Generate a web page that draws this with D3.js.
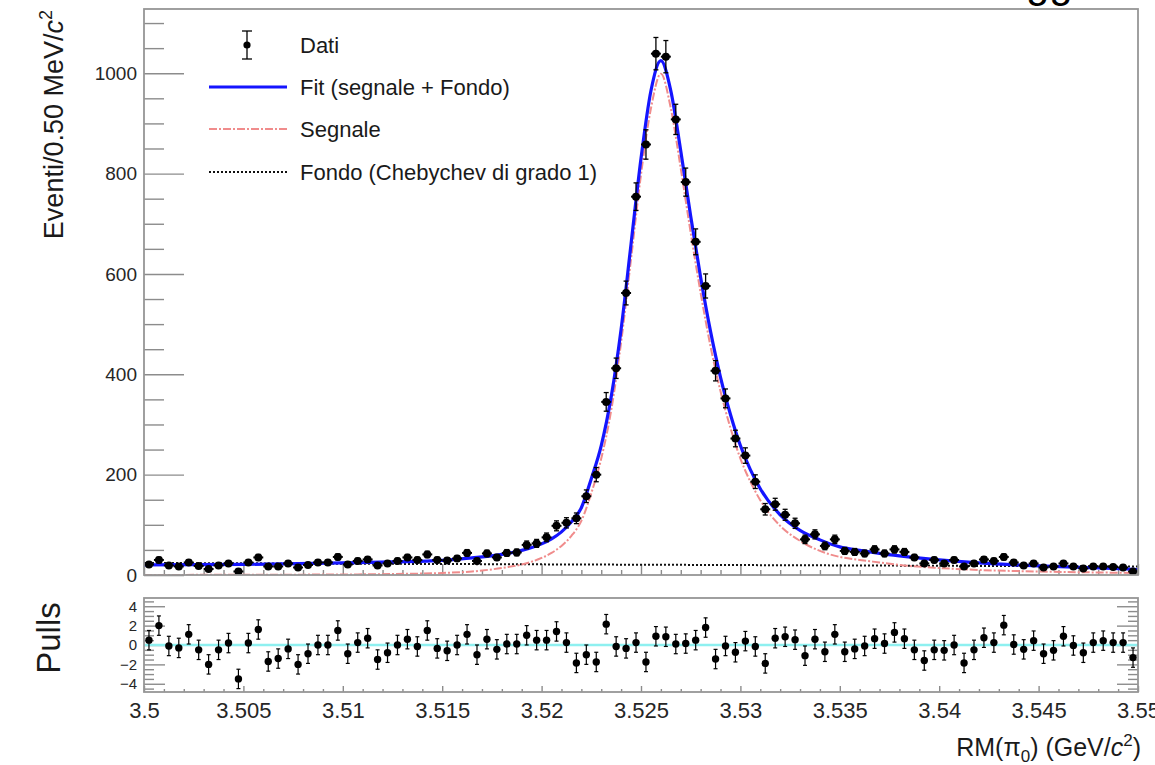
<!DOCTYPE html>
<html>
<head>
<meta charset="utf-8">
<script src="https://cdn.jsdelivr.net/npm/d3@7"></script>
<style>
  html, body { margin: 0; padding: 0; background: #fff; }
  svg { display: block; font-family: 'Liberation Sans', Arial, Helvetica, sans-serif; }
</style>
</head>
<body>
<svg id="chart" width="1155" height="765"></svg>
<script>
// Histogram binning: 100 bins of 0.5 MeV starting at 3.5 GeV
const binLow = 3.5;
const binWidth = 0.0005;

// Event counts per bin
const counts = [
  21, 30, 19, 17, 25, 18, 12, 19, 23, 7,
  25, 35, 17, 17, 23, 15, 20, 25, 25, 36,
  21, 28, 31, 19, 23, 28, 35, 30, 41, 30,
  29, 33, 44, 28, 43, 35, 44, 45, 60, 63,
  75, 98, 104, 113, 157, 200, 345, 412, 562, 754,
  858, 1039, 1033, 908, 783, 664, 576, 407, 352, 272,
  238, 186, 131, 141, 120, 103, 71, 81, 58, 71,
  48, 46, 43, 51, 43, 51, 46, 35, 23, 30,
  23, 30, 17, 23, 31, 28, 36, 25, 19, 23,
  15, 17, 23, 17, 13, 17, 17, 16, 15, 7
];

// Pull of each bin with respect to the total fit
const pulls = [
  0.5, 2.0, -0.1, -0.3, 1.1, -0.5, -2.0, -0.5, 0.2, -3.5,
  0.2, 1.6, -1.7, -1.4, -0.4, -2.0, -0.9, 0.0, 0.0, 1.5,
  -0.9, 0.25, 0.7, -1.5, -0.8, 0.0, 0.6, -0.15, 1.5, -0.35,
  -0.6, 0.0, 1.1, -1.0, 0.6, -0.45, 0.1, 0.1, 1.0, 0.5,
  0.5, 1.4, 0.25, -1.85, -1.0, -1.75, 2.15, -0.15, -0.35, 0.25,
  -1.75, 0.9, 0.85, 0.1, 0.15, 0.5, 1.8, -1.45, -0.1, -0.75,
  0.4, -0.15, -1.9, 0.7, 0.85, 0.55, -1.1, 0.6, -0.7, 1.1,
  -0.7, -0.4, -0.1, 0.65, 0.15, 1.3, 0.65, -0.5, -1.6, -0.5,
  -0.55, 0.0, -1.85, -0.5, 0.75, 0.25, 2.05, 0.05, -0.45, 0.45,
  -0.9, -0.55, 0.9, -0.05, -0.8, 0.25, 0.45, 0.25, 0.25, -1.3
];

// Fit curves sampled along the mass axis
const curveMass = [
  3.5, 3.505, 3.51, 3.5125, 3.515, 3.5165, 3.518, 3.519, 3.52,
  3.5205, 3.521, 3.5215, 3.522, 3.5225, 3.523, 3.5235, 3.524, 3.5245, 3.525,
  3.5255, 3.526, 3.5265, 3.527, 3.5275, 3.528, 3.5285, 3.529, 3.5295, 3.53,
  3.5305, 3.531, 3.532, 3.533, 3.534, 3.535, 3.536, 3.537, 3.538, 3.54,
  3.542, 3.545, 3.548, 3.55
];
const fitCurve = [
  20, 21, 24, 26, 29, 34, 41, 49, 62,
  72, 86, 106, 134, 192, 258, 355, 490, 660, 830,
  965, 1025, 965, 845, 715, 593, 485, 394, 320, 258,
  210, 172, 120, 89, 70, 56, 49, 43, 38, 30,
  24, 18, 14, 11
];
const signalCurve = [
  0, 0.5, 1, 2, 4, 7, 14, 21, 34,
  44, 58, 78, 108, 163, 232, 328, 464, 630, 798,
  930, 999, 930, 810, 682, 562, 455, 366, 293, 232,
  186, 149, 98, 68, 48, 36, 30, 25, 20, 14,
  10, 7, 5, 4
];
// Linear (first-order Chebychev) background, end points
const backgroundMass = [3.5, 3.55];
const backgroundCurve = [24, 17];

// Axis ticks and labels
const massTicks = [3.5, 3.505, 3.51, 3.515, 3.52, 3.525, 3.53, 3.535, 3.54, 3.545, 3.55];
const massTickLabels = ["3.5", "3.505", "3.51", "3.515", "3.52", "3.525", "3.53", "3.535", "3.54", "3.545", "3.55"];
const countTicks = [0, 200, 400, 600, 800, 1000];
const pullTicks = [-4, -2, 0, 2, 4];
const legendLabels = ["Dati", "Fit (segnale + Fondo)", "Segnale", "Fondo (Chebychev di grado 1)"];

const svg = d3.select('#chart');
const L = 144, R = 1138, T = 9, B = 575;       // main pad frame
const PT = 598, PB = 692;                       // pulls pad frame
const frameColor = '#969696';
const tickColor = '#8c8c8c';
const labelColor = '#262626';

const x = d3.scaleLinear().domain([3.5, 3.55]).range([L, R]);
const y = d3.scaleLinear().domain([0, 1128]).range([B, T]);
const yp = d3.scaleLinear().domain([-4.85, 4.85]).range([PB, PT]);

const defs = svg.append('defs');
defs.append('clipPath').attr('id', 'clipMain')
  .append('rect').attr('x', L).attr('y', T).attr('width', R - L).attr('height', B - T);
defs.append('clipPath').attr('id', 'clipPull')
  .append('rect').attr('x', L).attr('y', PT).attr('width', R - L).attr('height', PB - PT);

function styleAxis(g, fontSize) {
  g.select('.domain').remove();
  g.selectAll('.tick line').attr('stroke', tickColor).attr('stroke-width', 1.4);
  g.selectAll('.tick text').attr('fill', labelColor).attr('font-size', fontSize)
    .attr('font-family', "'Liberation Sans', Arial, Helvetica, sans-serif");
}

// ---------- main pad axes ----------
const countMinor = d3.range(0, 1128, 50).filter(v => !countTicks.includes(v));
svg.append('g').attr('transform', `translate(${L},0)`)
  .call(d3.axisLeft(y).tickValues(countMinor).tickSizeInner(-20).tickSizeOuter(0).tickFormat(''))
  .call(g => styleAxis(g, 19));
svg.append('g').attr('transform', `translate(${L},0)`)
  .call(d3.axisLeft(y).tickValues(countTicks).tickSizeInner(-40).tickSizeOuter(0).tickPadding(7).tickFormat(d3.format('d')))
  .call(g => styleAxis(g, 19));

// minor mass ticks every 1 MeV, skipping the 5 MeV majors
const isMinor = v => Math.abs(Math.round(v * 200) - v * 200) > 1e-6;
const massMinor = d3.range(0, 51).map(k => 3.5 + k * 0.001).filter(isMinor);
svg.append('g').attr('transform', `translate(0,${B})`)
  .call(d3.axisBottom(x).tickValues(massMinor).tickSizeInner(-5).tickSizeOuter(0).tickFormat(''))
  .call(g => styleAxis(g, 20));
svg.append('g').attr('transform', `translate(0,${B})`)
  .call(d3.axisBottom(x).tickValues(massTicks).tickSizeInner(-11).tickSizeOuter(0).tickFormat(''))
  .call(g => styleAxis(g, 20));

// ---------- pulls pad axes ----------
const pullMinor = d3.range(-4.5, 4.6, 0.5).filter(v => Math.abs(v % 2) > 1e-6);
svg.append('g').attr('transform', `translate(${L},0)`)
  .call(d3.axisLeft(yp).tickValues(pullMinor).tickSizeInner(-10).tickSizeOuter(0).tickFormat(''))
  .call(g => styleAxis(g, 15));
svg.append('g').attr('transform', `translate(${L},0)`)
  .call(d3.axisLeft(yp).tickValues(pullTicks).tickSizeInner(-21).tickSizeOuter(0).tickPadding(7).tickFormat(d3.format('d')))
  .call(g => styleAxis(g, 15));
svg.append('g').attr('transform', `translate(${R},0)`)
  .call(d3.axisRight(yp).tickValues(pullMinor).tickSizeInner(-10).tickSizeOuter(0).tickFormat(''))
  .call(g => styleAxis(g, 15));
svg.append('g').attr('transform', `translate(${R},0)`)
  .call(d3.axisRight(yp).tickValues(pullTicks).tickSizeInner(-21).tickSizeOuter(0).tickFormat(''))
  .call(g => styleAxis(g, 15));

svg.append('g').attr('transform', `translate(0,${PB})`)
  .call(d3.axisBottom(x).tickValues(massMinor).tickSizeInner(-3).tickSizeOuter(0).tickFormat(''))
  .call(g => styleAxis(g, 22));
svg.append('g').attr('transform', `translate(0,${PB})`)
  .call(d3.axisBottom(x).tickValues(massTicks).tickSizeInner(-6).tickSizeOuter(0).tickPadding(10)
    .tickFormat((d, i) => massTickLabels[i]))
  .call(g => styleAxis(g, 22));

// ---------- curves ----------
const curvePts = curveMass.map((m, i) => ({ m, fit: fitCurve[i], sig: signalCurve[i] }));
const plot = svg.append('g').attr('clip-path', 'url(#clipMain)');

const bkgLine = d3.line().x(d => x(d[0])).y(d => y(d[1]));
plot.append('path')
  .attr('d', bkgLine(backgroundMass.map((m, i) => [m, backgroundCurve[i]])))
  .attr('fill', 'none').attr('stroke', '#111').attr('stroke-width', 2)
  .attr('stroke-dasharray', '2,2');

plot.append('path')
  .attr('d', d3.line().curve(d3.curveMonotoneX).x(d => x(d.m)).y(d => y(d.sig))(curvePts))
  .attr('fill', 'none').attr('stroke', '#f08c8c').attr('stroke-width', 2)
  .attr('stroke-dasharray', '8,2,2,2');

plot.append('path')
  .attr('d', d3.line().curve(d3.curveMonotoneX).x(d => x(d.m)).y(d => y(d.fit))(curvePts))
  .attr('fill', 'none').attr('stroke', '#1515ff').attr('stroke-width', 3.2);

// ---------- data points ----------
const bins = counts.map((c, i) => {
  const lo = binLow + binWidth * i;
  return { lo, hi: lo + binWidth, mid: lo + binWidth / 2, c, err: Math.sqrt(c), pull: pulls[i] };
});

const pts = plot.append('g').attr('stroke', '#000').attr('stroke-width', 1.3);
const dp = pts.selectAll('g.pt').data(bins).join('g').attr('class', 'pt');
dp.append('line')
  .attr('x1', d => x(d.mid)).attr('x2', d => x(d.mid))
  .attr('y1', d => y(d.c - d.err)).attr('y2', d => y(d.c + d.err));
dp.append('line')
  .attr('x1', d => x(d.mid) - 2.5).attr('x2', d => x(d.mid) + 2.5)
  .attr('y1', d => y(d.c + d.err)).attr('y2', d => y(d.c + d.err));
dp.append('line')
  .attr('x1', d => x(d.mid) - 2.5).attr('x2', d => x(d.mid) + 2.5)
  .attr('y1', d => y(d.c - d.err)).attr('y2', d => y(d.c - d.err));
dp.append('line')
  .attr('x1', d => x(d.lo)).attr('x2', d => x(d.hi))
  .attr('y1', d => y(d.c)).attr('y2', d => y(d.c)).attr('stroke-width', 2);
dp.append('circle')
  .attr('cx', d => x(d.mid)).attr('cy', d => y(d.c)).attr('r', 4)
  .attr('fill', '#000').attr('stroke', 'none');

// ---------- pulls ----------
const pplot = svg.append('g').attr('clip-path', 'url(#clipPull)');
pplot.append('line')
  .attr('x1', L).attr('x2', R).attr('y1', yp(0)).attr('y2', yp(0))
  .attr('stroke', '#8ef0f0').attr('stroke-width', 2.5);
const pp = pplot.append('g').attr('stroke', '#000').attr('stroke-width', 1.2)
  .selectAll('g').data(bins).join('g');
pp.append('line')
  .attr('x1', d => x(d.mid)).attr('x2', d => x(d.mid))
  .attr('y1', d => yp(d.pull - 1)).attr('y2', d => yp(d.pull + 1));
pp.append('line')
  .attr('x1', d => x(d.mid) - 2).attr('x2', d => x(d.mid) + 2)
  .attr('y1', d => yp(d.pull + 1)).attr('y2', d => yp(d.pull + 1));
pp.append('line')
  .attr('x1', d => x(d.mid) - 2).attr('x2', d => x(d.mid) + 2)
  .attr('y1', d => yp(d.pull - 1)).attr('y2', d => yp(d.pull - 1));
pp.append('circle')
  .attr('cx', d => x(d.mid)).attr('cy', d => yp(d.pull)).attr('r', 3.7)
  .attr('fill', '#000').attr('stroke', 'none');

// ---------- frames ----------
svg.append('rect').attr('x', L).attr('y', T).attr('width', R - L).attr('height', B - T)
  .attr('fill', 'none').attr('stroke', frameColor).attr('stroke-width', 1.8);
svg.append('rect').attr('x', L).attr('y', PT).attr('width', R - L).attr('height', PB - PT)
  .attr('fill', 'none').attr('stroke', frameColor).attr('stroke-width', 1.8);

// ---------- legend ----------
const leg = svg.append('g');
const legY = [45, 87, 129, 172];
const lg0 = leg.append('g').attr('stroke', '#000').attr('stroke-width', 1.3);
lg0.append('line').attr('x1', 247).attr('x2', 247).attr('y1', legY[0] - 14).attr('y2', legY[0] + 14);
lg0.append('line').attr('x1', 242).attr('x2', 252).attr('y1', legY[0] - 14).attr('y2', legY[0] - 14);
lg0.append('line').attr('x1', 242).attr('x2', 252).attr('y1', legY[0] + 14).attr('y2', legY[0] + 14);
lg0.append('circle').attr('cx', 247).attr('cy', legY[0]).attr('r', 3.6).attr('fill', '#000').attr('stroke', 'none');
leg.append('line').attr('x1', 209).attr('x2', 287).attr('y1', legY[1]).attr('y2', legY[1])
  .attr('stroke', '#1515ff').attr('stroke-width', 3.2);
leg.append('line').attr('x1', 209).attr('x2', 287).attr('y1', legY[2]).attr('y2', legY[2])
  .attr('stroke', '#f08c8c').attr('stroke-width', 2).attr('stroke-dasharray', '8,2,2,2');
leg.append('line').attr('x1', 209).attr('x2', 287).attr('y1', legY[3]).attr('y2', legY[3])
  .attr('stroke', '#111').attr('stroke-width', 2).attr('stroke-dasharray', '2,2');
leg.selectAll('text.lab').data(legendLabels).join('text').attr('class', 'lab')
  .attr('x', 300).attr('y', (d, i) => legY[i]).attr('dy', '0.36em')
  .attr('font-size', 22).attr('fill', '#1a1a1a').text(d => d);

// ---------- axis titles ----------
const yt = svg.append('text')
  .attr('transform', 'translate(63,10) rotate(-90)')
  .attr('text-anchor', 'end').attr('font-size', 27).attr('fill', '#1a1a1a');
yt.append('tspan').text('Eventi/0.50 MeV/');
yt.append('tspan').attr('font-style', 'italic').text('c');
yt.append('tspan').attr('font-size', 18).attr('dy', -11).text('2');

svg.append('text')
  .attr('transform', 'translate(60,638) rotate(-90)')
  .attr('text-anchor', 'middle').attr('font-size', 33).attr('fill', '#1a1a1a').text('Pulls');

const xt = svg.append('text')
  .attr('x', 1141).attr('y', 756)
  .attr('text-anchor', 'end').attr('font-size', 25).attr('fill', '#1a1a1a');
xt.append('tspan').text('RM(π');
xt.append('tspan').attr('font-size', 17).attr('dy', 6).text('0');
xt.append('tspan').attr('dy', -6).text(') (GeV/');
xt.append('tspan').attr('font-style', 'italic').text('c');
xt.append('tspan').attr('font-size', 17).attr('dy', -10).text('2');
xt.append('tspan').attr('dy', 10).text(')');

// Title fragment running off the top edge
svg.append('text').attr('x', 1026).attr('y', -3).attr('font-size', 42).attr('fill', '#000').text('gg');
</script>
</body>
</html>
